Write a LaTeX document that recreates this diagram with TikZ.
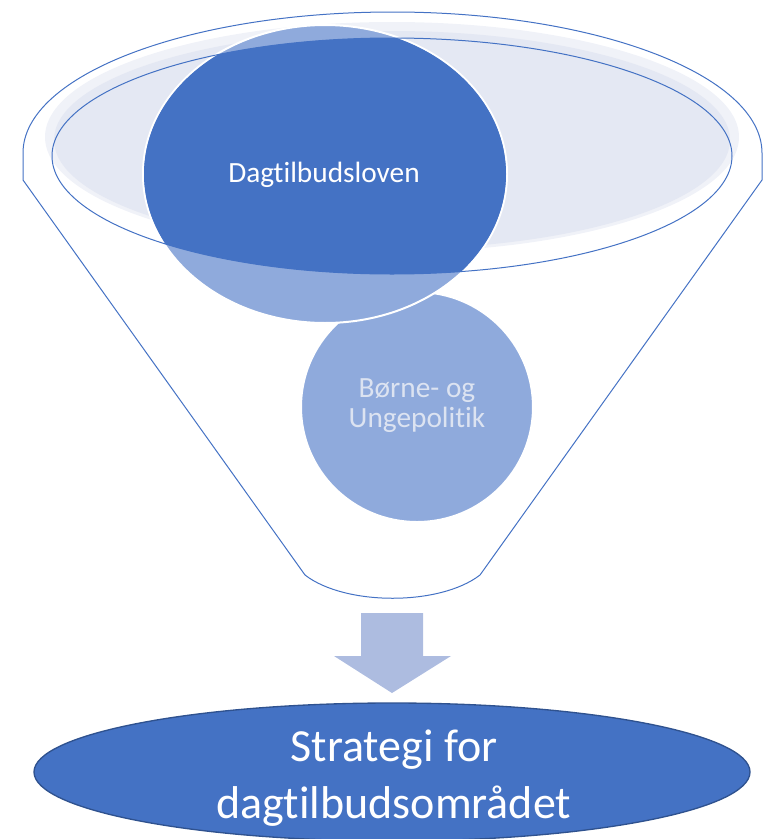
\documentclass[tikz,border=0pt]{standalone}
\usepackage{fontspec}
\setmainfont{Carlito}[Ligatures=NoCommon]
\usetikzlibrary{calc}
\definecolor{darkblue}{HTML}{4472C4}
\definecolor{lightblue}{HTML}{8FAADC}
\definecolor{bowlgray}{HTML}{E4E8F3}
\definecolor{bowlpale}{HTML}{F0F2F8}
\definecolor{arrowblue}{HTML}{ADBCE0}
\definecolor{edgeblue}{HTML}{2F528F}
\definecolor{paletext}{HTML}{DCE3F1}

\begin{document}
\begin{tikzpicture}[x=0.75pt, y=-0.75pt]
\useasboundingbox (0,0) rectangle (765,839);

% funnel
\draw [color=darkblue, line width=0.75pt] (23,153) arc (180:360:369.5 and 141) -- (762,180) -- (480,575)
  .. controls (440,606) and (345,606) .. (305,575) -- (23,180) -- cycle;

% bowl of the funnel
\fill [bowlpale] (392,137) ellipse (347 and 115);
\fill [bowlgray] (392,140) ellipse (338 and 109);

% small circle
\draw [fill=lightblue, draw=white, line width=1.5pt] (417,407) ellipse (116 and 115);
\node [text=paletext, align=center, font=\fontsize{22}{22.5}\selectfont] (policy) at (417,406) {Børne- og\\Ungepolitik};

% big circle
\draw [fill=lightblue, draw=white, line width=1.5pt] (325,174) ellipse (182 and 149);
\begin{scope}
  \clip (392,156) ellipse (340 and 118);
  \fill [darkblue] (325,174) ellipse (181 and 148);
\end{scope}
\draw [color=darkblue, line width=0.75pt] (392,156) ellipse (340 and 118);
\node [text=white, font=\fontsize{22}{26}\selectfont] (law) at (324,175) {Dagtilbudsloven};

% arrow
\fill [arrowblue] (361,613) -- (423,613) -- (423,656) -- (451,656) -- (392,693) -- (334,656) -- (361,656) -- cycle;

% strategy
\draw [fill=darkblue, draw=edgeblue, line width=1pt] (392,772) ellipse (358 and 69);
\node [text=white, align=center, font=\fontsize{34.5}{43}\selectfont] (strategy) at (394,778) {Strategi for\\dagtilbudsområdet};

\end{tikzpicture}
\end{document}
